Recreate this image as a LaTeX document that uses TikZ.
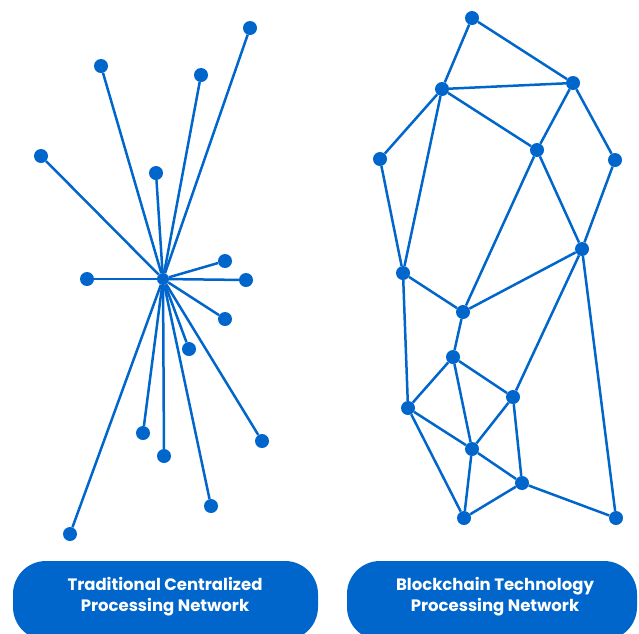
\documentclass[tikz,border=0pt]{standalone}
\usepackage{fontspec}
\setmainfont{Poppins}
\usetikzlibrary{positioning}
\definecolor{netblue}{RGB}{0,102,204}

\begin{document}
\begin{tikzpicture}[x=1pt,y=-1pt,
  dot/.style={circle,fill=netblue,inner sep=0pt,minimum size=14pt},
  hubdot/.style={circle,fill=netblue,inner sep=0pt,minimum size=12pt},
  link/.style={draw=netblue,line width=2.5pt},
  pill/.style={fill=netblue,rounded corners=33pt},
  caption/.style={text=white,align=center,font=\bfseries\fontsize{16.5}{21}\selectfont}]
\useasboundingbox (0,0) rectangle (639,633);

% centralized network
\node [hubdot] (hub) at (163,279) {};
\node [dot] (c1) at (250,28) {};
\node [dot] (c2) at (101,66) {};
\node [dot] (c3) at (201,75) {};
\node [dot] (c4) at (41,156) {};
\node [dot] (c5) at (156,173) {};
\node [dot] (c6) at (225,261) {};
\node [dot] (c7) at (87,279) {};
\node [dot] (c8) at (246,280) {};
\node [dot] (c9) at (225,319) {};
\node [dot] (c10) at (189,349) {};
\node [dot] (c11) at (143,433) {};
\node [dot] (c12) at (164,456) {};
\node [dot] (c13) at (262,441) {};
\node [dot] (c14) at (211,506) {};
\node [dot] (c15) at (70,534) {};
\foreach \leaf in {c1,c2,c3,c4,c5,c6,c7,c8,c9,c10,c11,c12,c13,c14,c15}
  \draw [link] (hub) -- (\leaf);

% blockchain network
\node [dot] (a) at (472,18) {};
\node [dot] (b) at (442,89) {};
\node [dot] (c) at (573,83) {};
\node [dot] (d) at (380,159) {};
\node [dot] (e) at (537,150) {};
\node [dot] (f) at (615,160) {};
\node [dot] (g) at (582,249) {};
\node [dot] (h) at (403,273) {};
\node [dot] (i) at (463,312) {};
\node [dot] (j) at (453,357) {};
\node [dot] (k) at (513,397) {};
\node [dot] (l) at (408,408) {};
\node [dot] (m) at (472,449) {};
\node [dot] (n) at (522,483) {};
\node [dot] (o) at (464,518) {};
\node [dot] (p) at (616,518) {};
\foreach \from/\to in {a/b,a/c,b/c,b/d,b/h,b/e,c/e,c/f,e/g,e/i,f/g,g/i,g/k,g/p,
    d/h,h/i,h/l,i/j,j/l,j/k,j/m,k/m,k/n,l/m,l/o,m/n,m/o,n/o,n/p}
  \draw [link] (\from) -- (\to);

% captions
\fill [pill] (13,561) rectangle (318,640);
\fill [pill] (347,561) rectangle (637,640);
\node [caption] (left label) at (165,597) {Traditional Centralized\\Processing Network};
\node [caption] (right label) at (495,597) {Blockchain Technology\\Processing Network};
\end{tikzpicture}
\end{document}
